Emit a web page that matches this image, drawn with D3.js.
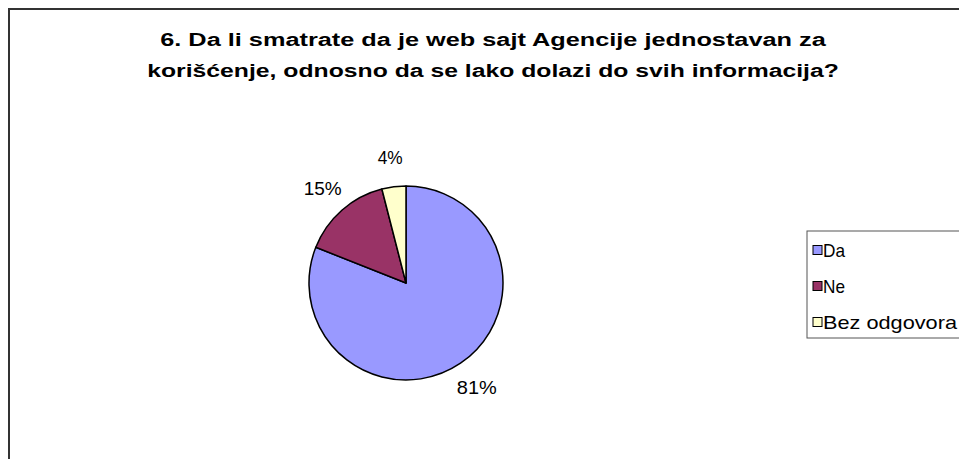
<!DOCTYPE html>
<html>
<head>
<meta charset="utf-8">
<script src="https://cdn.jsdelivr.net/npm/d3@7"></script>
<style>
  body { margin: 0; background: #fff; }
  text { font-family: "Liberation Sans", Arial, sans-serif; fill: #000; }
</style>
</head>
<body>
<div id="chart"></div>
<script>
// data
var categories = ["Da", "Ne", "Bez odgovora"];
var values = [81, 15, 4];
var percentLabels = ["81%", "15%", "4%"];
var colors = ["#9999FF", "#993366", "#FFFFCC"];
var titleLines = [
    "6. Da li smatrate da je web sajt Agencije jednostavan za",
    "korišćenje, odnosno da se lako dolazi do svih informacija?"
];

var width = 959;
var height = 459;
var radius = 97;
var cx = 406, cy = 283;

var svg = d3.select('#chart')
    .append('svg')
    .attr('width', width)
    .attr('height', height);

// stretch a text element horizontally to a given width (the original is wide-set)
function stretch(sel, x, y, target) {
    sel.each(function (d, i) {
        var w = this.getComputedTextLength();
        var t = typeof target === 'function' ? target(d, i) : target;
        var xx = typeof x === 'function' ? x(d, i) : x;
        var yy = typeof y === 'function' ? y(d, i) : y;
        d3.select(this).attr('x', 0).attr('y', 0)
          .attr('transform', 'translate(' + xx + ',' + yy + ') scale(' + (t / w) + ',1)');
    });
}

// outer chart frame
svg.append('rect')
    .attr('x', 9)
    .attr('y', 9)
    .attr('width', 980)
    .attr('height', 480)
    .attr('fill', '#fff')
    .attr('stroke', '#333')
    .attr('stroke-width', 2);

// title
var titleWidths = [666, 692];
svg.selectAll('text.title')
    .data(titleLines)
    .enter().append('text')
    .attr('class', 'title')
    .attr('text-anchor', 'middle')
    .style('font-size', '18.5px')
    .style('font-weight', 'bold')
    .text(function (d) { return d; })
    .call(stretch, 493, function (d, i) { return 46 + i * 31; },
          function (d, i) { return titleWidths[i]; });

// pie
var pie = d3.pie().sort(null).value(function (d) { return d; });
var arcs = pie(values);

var arc = d3.arc().innerRadius(0).outerRadius(radius);
var labelArc = d3.arc().innerRadius(126).outerRadius(126);

var g = svg.append('g')
    .attr('transform', 'translate(' + cx + ',' + cy + ')');

g.selectAll('path')
    .data(arcs)
    .enter().append('path')
    .attr('d', arc)
    .attr('fill', function (d, i) { return colors[i]; })
    .attr('stroke', '#000')
    .attr('stroke-width', 1.5)
    .attr('stroke-linejoin', 'round');

var pctWidths = [40, 38, 25];
g.selectAll('text.pct')
    .data(arcs)
    .enter().append('text')
    .attr('class', 'pct')
    .attr('text-anchor', 'middle')
    .attr('dy', '0.36em')
    .style('font-size', '18px')
    .text(function (d, i) { return percentLabels[i]; })
    .call(stretch,
          function (d) { return labelArc.centroid(d)[0]; },
          function (d) { return labelArc.centroid(d)[1]; },
          function (d, i) { return pctWidths[i]; });

// legend
var legend = svg.append('g');
legend.append('rect')
    .attr('x', 807)
    .attr('y', 231)
    .attr('width', 170)
    .attr('height', 107)
    .attr('fill', '#fff')
    .attr('stroke', '#555')
    .attr('stroke-width', 1);

var ly = d3.scalePoint().domain(categories).range([250, 322]);

var items = legend.selectAll('g.item')
    .data(categories)
    .enter().append('g')
    .attr('class', 'item')
    .attr('transform', function (d) { return 'translate(0,' + ly(d) + ')'; });

items.append('rect')
    .attr('x', 813)
    .attr('y', -4.5)
    .attr('width', 9)
    .attr('height', 9)
    .attr('fill', function (d, i) { return colors[i]; })
    .attr('stroke', '#000')
    .attr('stroke-width', 1);

var legendWidths = [22, 22, 134];
items.append('text')
    .style('font-size', '18px')
    .text(function (d) { return d; })
    .call(stretch, 823, 6.5, function (d, i) { return legendWidths[i]; });
</script>
</body>
</html>
